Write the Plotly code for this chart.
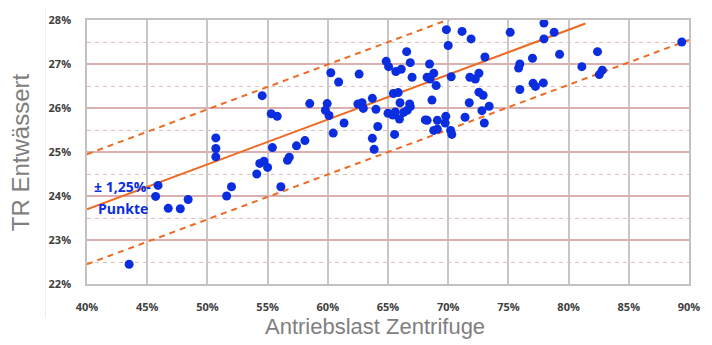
import plotly.graph_objects as go

# Measurements: drive load of the centrifuge (%) vs. dry residue after dewatering (%)
antriebslast = [
    43.5, 45.9, 45.7, 46.75, 47.75, 48.4, 50.7, 50.7, 50.7, 51.6,
    52.0, 54.1, 54.35, 54.7, 55.0, 55.4, 54.55, 55.3, 55.8, 56.1,
    56.65, 56.8, 57.4, 58.1, 58.5, 59.95, 59.8, 60.1, 60.25, 60.9,
    60.45, 61.35, 62.6, 62.5, 62.85, 62.95, 63.7, 64.0, 64.15, 63.7,
    63.85, 64.85, 65.05, 66.55, 66.85, 65.65, 66.1, 67.0, 65.45, 65.85,
    66.0, 66.8, 65.0, 65.4, 65.6, 65.95, 66.3, 66.6, 66.85, 65.55,
    68.1, 69.85, 70.0, 71.15, 71.9, 75.15, 77.95, 77.95, 78.8, 79.25,
    73.05, 77.0, 75.95, 75.85, 75.95, 77.05, 77.25, 77.9, 68.45, 68.8,
    68.25, 68.5, 69.0, 70.25, 71.8, 72.25, 72.55, 68.65, 72.55, 72.9,
    71.75, 73.4, 72.8, 71.4, 73.0, 68.25, 69.1, 69.8, 69.75, 68.8,
    69.1, 70.2, 70.3, 82.4, 81.1, 82.8, 82.55, 89.4,
]
tr_entwaessert = [
    22.45, 24.24, 23.99, 23.72, 23.71, 23.92, 25.32, 25.08, 24.89, 24.00,
    24.21, 24.50, 24.74, 24.79, 24.65, 25.10, 26.28, 25.87, 25.81, 24.21,
    24.81, 24.88, 25.14, 25.26, 26.10, 26.10, 25.95, 25.83, 26.80, 26.59,
    25.43, 25.66, 26.77, 26.09, 26.12, 25.99, 26.22, 25.97, 25.58, 25.31,
    25.06, 27.06, 26.94, 27.28, 27.03, 26.83, 26.88, 26.70, 26.33, 26.35,
    26.12, 26.09, 25.88, 25.84, 25.91, 25.75, 25.90, 25.95, 26.03, 25.40,
    25.73, 27.78, 27.42, 27.74, 27.57, 27.72, 27.93, 27.57, 27.72, 27.22,
    27.16, 27.13, 27.00, 26.91, 26.42, 26.56, 26.49, 26.57, 27.00, 26.79,
    26.70, 26.66, 26.51, 26.71, 26.70, 26.66, 26.79, 26.18, 26.36, 26.29,
    26.12, 26.04, 25.94, 25.79, 25.66, 25.72, 25.72, 25.81, 25.66, 25.49,
    25.52, 25.49, 25.40, 27.28, 26.94, 26.86, 26.76, 27.50,
]

# Trend line and the +/- 1.25 percentage-point band around it
trend_x = [40.0, 81.4]
trend_y = [23.70, 27.92]
band_width = 1.25
band_x = [40.0, 90.0]
slope = (trend_y[1] - trend_y[0]) / (trend_x[1] - trend_x[0])
upper_y = [trend_y[0] + band_width + slope * (x - trend_x[0]) for x in band_x]
lower_y = [trend_y[0] - band_width + slope * (x - trend_x[0]) for x in band_x]

x_ticks = [40, 45, 50, 55, 60, 65, 70, 75, 80, 85, 90]
y_ticks = [22, 23, 24, 25, 26, 27, 28]

ORANGE = "#ee6a22"
BLUE = "#0a2de0"

fig = go.Figure()
fig.add_trace(go.Scatter(x=band_x, y=upper_y, mode="lines",
                         line=dict(color=ORANGE, width=2, dash="6px,5px"),
                         hoverinfo="skip"))
fig.add_trace(go.Scatter(x=band_x, y=lower_y, mode="lines",
                         line=dict(color=ORANGE, width=2, dash="6px,5px"),
                         hoverinfo="skip"))
fig.add_trace(go.Scatter(x=trend_x, y=trend_y, mode="lines",
                         line=dict(color=ORANGE, width=2),
                         hoverinfo="skip"))
fig.add_trace(go.Scatter(x=antriebslast, y=tr_entwaessert, mode="markers",
                         marker=dict(color=BLUE, size=9, line=dict(width=0)),
                         cliponaxis=False))

tick_font = dict(family="Open Sans", size=11, color="#404040", weight="bold")

fig.update_xaxes(
    range=[40, 90], tickvals=x_ticks, ticktext=[f"{v}%" for v in x_ticks],
    showgrid=True, gridcolor="#cbc6c6", gridwidth=1.5,
    showline=True, linecolor="#c4c0c0", linewidth=1.5, mirror=True,
    zeroline=False, ticks="", ticklabelstandoff=12, tickfont=tick_font,
)
fig.update_yaxes(
    range=[22, 28], tickvals=y_ticks, ticktext=[f"{v}%" for v in y_ticks],
    showgrid=True, gridcolor="#dbb0b0", gridwidth=1.5,
    minor=dict(dtick=0.5, tick0=22, showgrid=True, gridcolor="#dcbcbc",
               griddash="4px,4px", gridwidth=1.2),
    showline=True, linecolor="#c4c0c0", linewidth=1.5, mirror=True,
    zeroline=False, ticks="", ticklabelstandoff=12, tickfont=tick_font,
)

fig.add_annotation(text="± 1,25%-", x=40.4, y=24.21, xanchor="left", yanchor="middle",
                   showarrow=False, font=dict(family="Open Sans", size=14, color=BLUE, weight="bold"))
fig.add_annotation(text="Punkte", x=40.75, y=23.72, xanchor="left", yanchor="middle",
                   showarrow=False, font=dict(family="Open Sans", size=14, color=BLUE, weight="bold"))

fig.add_annotation(text="TR Entwässert", xref="paper", yref="paper", x=-0.111, y=0.5,
                   textangle=-90, showarrow=False, xanchor="center", yanchor="middle",
                   font=dict(family="Liberation Sans", size=24, color="#7f7f7f"))
fig.add_annotation(text="Antriebslast Zentrifuge", xref="paper", yref="paper", x=0.478, y=-0.16,
                   showarrow=False, xanchor="center", yanchor="middle",
                   font=dict(family="Liberation Sans", size=22, color="#7f7f7f"))

# faint frame edge on the left of the chart
fig.add_shape(type="line", xref="paper", yref="paper", x0=-0.069, x1=-0.069, y0=-0.13, y1=1.05,
              line=dict(color="#eeeeee", width=1))

fig.update_layout(
    width=712, height=345,
    margin=dict(l=87, r=12, t=15, b=61),
    paper_bgcolor="white", plot_bgcolor="white",
    showlegend=False,
)

fig.write_html("out.html")
